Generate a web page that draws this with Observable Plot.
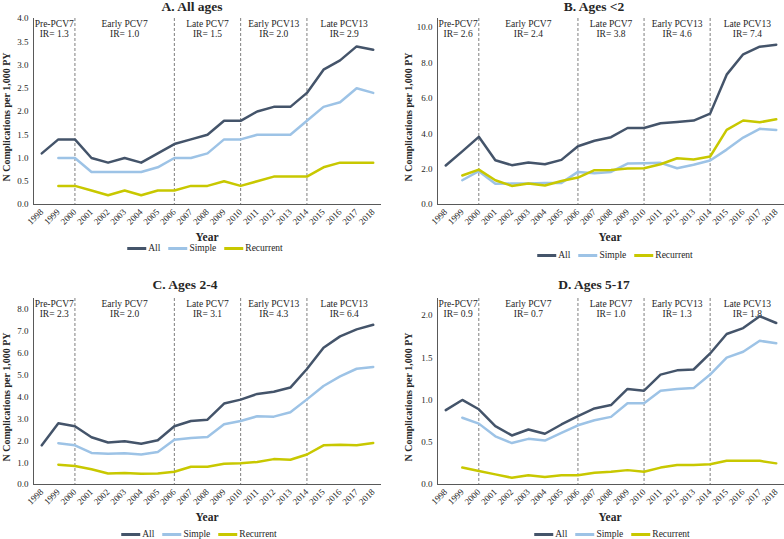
<!DOCTYPE html>
<html><head><meta charset="utf-8">
<script src="https://cdn.jsdelivr.net/npm/d3@7"></script>
<script src="https://cdn.jsdelivr.net/npm/@observablehq/plot@0.6"></script>
<style>
body{margin:0;background:#fff;font-family:"Liberation Serif","Times New Roman",serif;color:#262626;}
#root{position:relative;width:784px;height:539px;overflow:hidden;}
.panel{position:absolute;width:392px;height:270px;}
.panel svg{position:absolute;left:0;top:0;}
.title{position:absolute;font-weight:bold;font-size:13.5px;transform:translate(-50%,-50%);white-space:nowrap;}
.ylab{position:absolute;font-weight:bold;font-size:10px;white-space:nowrap;transform:translate(-50%,-50%) rotate(-90deg);}
.xlab{position:absolute;font-weight:bold;font-size:11.5px;transform:translate(-50%,-50%);}
.legend{position:absolute;display:flex;align-items:center;font-size:9.5px;transform:translate(-50%,-50%);white-space:nowrap;}
.legend .sw{display:inline-block;width:19px;height:3px;margin-right:2px;}
.legend .it{display:flex;align-items:center;margin-right:8px;}
</style></head>
<body><div id="root"></div>
<script>
// ---- data ----
const years = [1998,1999,2000,2001,2002,2003,2004,2005,2006,2007,2008,2009,2010,2011,2012,2013,2014,2015,2016,2017,2018];
const seriesNames = ["All","Simple","Recurrent"];
const seriesColors = ["#44546A","#9DC3E6","#C8C800"];
const periodNames = ["Pre-PCV7","Early PCV7","Late PCV7","Early PCV13","Late PCV13"];
const periodBounds = [2000,2006,2010,2014];
const panelTitles = ["A. All ages","B. Ages <2","C. Ages 2-4","D. Ages 5-17"];

const irA = ["1.3","1.0","1.5","2.0","2.9"];
const irB = ["2.6","2.4","3.8","4.6","7.4"];
const irC = ["2.3","2.0","3.1","4.3","6.4"];
const irD = ["0.9","0.7","1.0","1.3","1.8"];

const aAll       = [1.1,1.4,1.4,1.0,0.9,1.0,0.9,1.1,1.3,1.4,1.5,1.8,1.8,2.0,2.1,2.1,2.4,2.9,3.1,3.4,3.33];
const aSimple    = [null,1.0,1.0,0.7,0.7,0.7,0.7,0.8,1.0,1.0,1.1,1.4,1.4,1.5,1.5,1.5,1.8,2.1,2.2,2.5,2.4];
const aRecurrent = [null,0.4,0.4,0.3,0.2,0.3,0.2,0.3,0.3,0.4,0.4,0.5,0.4,0.5,0.6,0.6,0.6,0.8,0.9,0.9,0.9];

const bAll       = [2.2,3.0,3.82,2.5,2.22,2.37,2.27,2.52,3.29,3.6,3.8,4.32,4.32,4.59,4.66,4.74,5.13,7.33,8.48,8.91,9.02];
const bSimple    = [null,1.37,1.88,1.17,1.18,1.18,1.22,1.22,1.84,1.77,1.84,2.31,2.33,2.35,2.05,2.24,2.48,3.1,3.78,4.27,4.21];
const bRecurrent = [null,1.64,1.97,1.37,1.05,1.18,1.07,1.33,1.52,1.94,1.95,2.03,2.05,2.27,2.61,2.54,2.71,4.21,4.74,4.64,4.81];

const cAll       = [1.79,2.8,2.66,2.16,1.92,1.98,1.86,2.02,2.66,2.9,2.96,3.7,3.88,4.14,4.24,4.43,5.28,6.25,6.77,7.09,7.3];
const cSimple    = [null,1.89,1.79,1.44,1.4,1.43,1.37,1.49,2.04,2.13,2.17,2.75,2.9,3.12,3.1,3.3,3.89,4.5,4.94,5.29,5.37];
const cRecurrent = [null,0.9,0.85,0.7,0.5,0.52,0.49,0.5,0.58,0.81,0.81,0.95,0.97,1.03,1.16,1.13,1.37,1.79,1.82,1.79,1.9];

const dAll       = [0.88,1.0,0.89,0.69,0.58,0.65,0.6,0.71,0.81,0.9,0.94,1.13,1.11,1.3,1.35,1.36,1.55,1.78,1.85,1.99,1.91];
const dSimple    = [null,0.79,0.72,0.57,0.49,0.54,0.52,0.61,0.7,0.76,0.8,0.96,0.96,1.11,1.13,1.14,1.3,1.5,1.57,1.7,1.67];
const dRecurrent = [null,0.2,0.16,0.12,0.08,0.11,0.09,0.11,0.11,0.14,0.15,0.17,0.15,0.2,0.23,0.23,0.24,0.28,0.28,0.28,0.25];

const yTicksA = [0,0.5,1.0,1.5,2.0,2.5,3.0,3.5,4.0];
const yTicksB = [0,2,4,6,8,10];
const yTicksC = [0,1,2,3,4,5,6,7,8];
const yTicksD = [0,0.5,1.0,1.5,2.0];
const yMax = [4, 10.5, 8.5, 2.2];

// ---- layout ----
const panels = [
  {title:panelTitles[0], ir:irA, data:[aAll,aSimple,aRecurrent], ticks:yTicksA, ymax:yMax[0],
   left:0, top:0, ml:33, mr:11, titleX:192, titleY:7, yLabX:6, xLabX:207, legX:209, legY:248},
  {title:panelTitles[1], ir:irB, data:[bAll,bSimple,bRecurrent], ticks:yTicksB, ymax:yMax[1],
   left:392, top:0, ml:45, mr:0, titleX:202, titleY:7, yLabX:16, xLabX:218, legX:227, legY:255},
  {title:panelTitles[2], ir:irC, data:[cAll,cSimple,cRecurrent], ticks:yTicksC, ymax:yMax[2],
   left:0, top:280, ml:33, mr:11, titleX:185, titleY:5, yLabX:6, xLabX:207, legX:203, legY:254},
  {title:panelTitles[3], ir:irD, data:[dAll,dSimple,dRecurrent], ticks:yTicksD, ymax:yMax[3],
   left:392, top:280, ml:45, mr:0, titleX:202, titleY:5, yLabX:16, xLabX:218, legX:224, legY:254}
];

const root = document.getElementById("root");
const ext = [years[0]-0.5, years[years.length-1]+0.5];
const bounds = [ext[0], ...periodBounds, ext[1]];

panels.forEach(p => {
  const div = document.createElement("div");
  div.className = "panel";
  div.style.left = p.left + "px"; div.style.top = p.top + "px";
  root.appendChild(div);

  const rows = [];
  seriesNames.forEach((s, k) => years.forEach((yr, i) => {
    const v = p.data[k][i];
    if (v != null) rows.push({year: yr, value: v, series: s});
  }));
  const labels = periodNames.map((name, i) => ({x: (bounds[i] + bounds[i+1]) / 2, text: name + "\nIR= " + p.ir[i]}));

  const chart = Plot.plot({
    width: 392, height: 232,
    marginLeft: p.ml, marginRight: p.mr, marginTop: 18, marginBottom: 28,
    style: {fontFamily: "'Liberation Serif', 'Times New Roman', serif", fontSize: "9px", color: "#262626", background: "transparent", overflow: "visible"},
    x: {domain: ext, label: null},
    y: {domain: [0, p.ymax], label: null},
    color: {domain: seriesNames, range: seriesColors},
    marks: [
      Plot.ruleX(periodBounds, {stroke: "#7f7f7f", strokeDasharray: "3,2", strokeWidth: 1}),
      Plot.text(labels, {x: "x", frameAnchor: "top", text: "text", lineAnchor: "top", lineHeight: 1.05, dy: 1, fontSize: 9.5, fill: "#262626"}),
      Plot.line(rows, {x: "year", y: "value", z: "series", stroke: "series", strokeWidth: 2.5, strokeLinejoin: "round"}),
      Plot.axisY(p.ticks, {tickSize: 0, tickPadding: 5, tickFormat: d => d.toFixed(1), fontSize: 9, label: null}),
      Plot.axisX(years, {tickSize: 0, tickPadding: 6, tickRotate: -45, tickFormat: d => String(d), fontSize: 9, label: null}),
      Plot.ruleX([ext[0]], {stroke: "#595959", strokeWidth: 1}),
      Plot.ruleY([0], {stroke: "#595959", strokeWidth: 1})
    ]
  });
  div.appendChild(chart);

  const t = document.createElement("div");
  t.className = "title"; t.textContent = p.title;
  t.style.left = p.titleX + "px"; t.style.top = p.titleY + "px";
  div.appendChild(t);

  const yl = document.createElement("div");
  yl.className = "ylab"; yl.textContent = "N Complications per 1,000 PY";
  yl.style.left = p.yLabX + "px"; yl.style.top = "117px";
  div.appendChild(yl);

  const xl = document.createElement("div");
  xl.className = "xlab"; xl.textContent = "Year";
  xl.style.left = p.xLabX + "px"; xl.style.top = "237px";
  div.appendChild(xl);

  const lg = document.createElement("div");
  lg.className = "legend";
  lg.style.left = p.legX + "px"; lg.style.top = p.legY + "px";
  seriesNames.forEach((s, k) => {
    const it = document.createElement("span"); it.className = "it";
    const sw = document.createElement("span"); sw.className = "sw"; sw.style.background = seriesColors[k];
    const tx = document.createElement("span"); tx.textContent = s;
    it.appendChild(sw); it.appendChild(tx); lg.appendChild(it);
  });
  div.appendChild(lg);
});
</script></body></html>
